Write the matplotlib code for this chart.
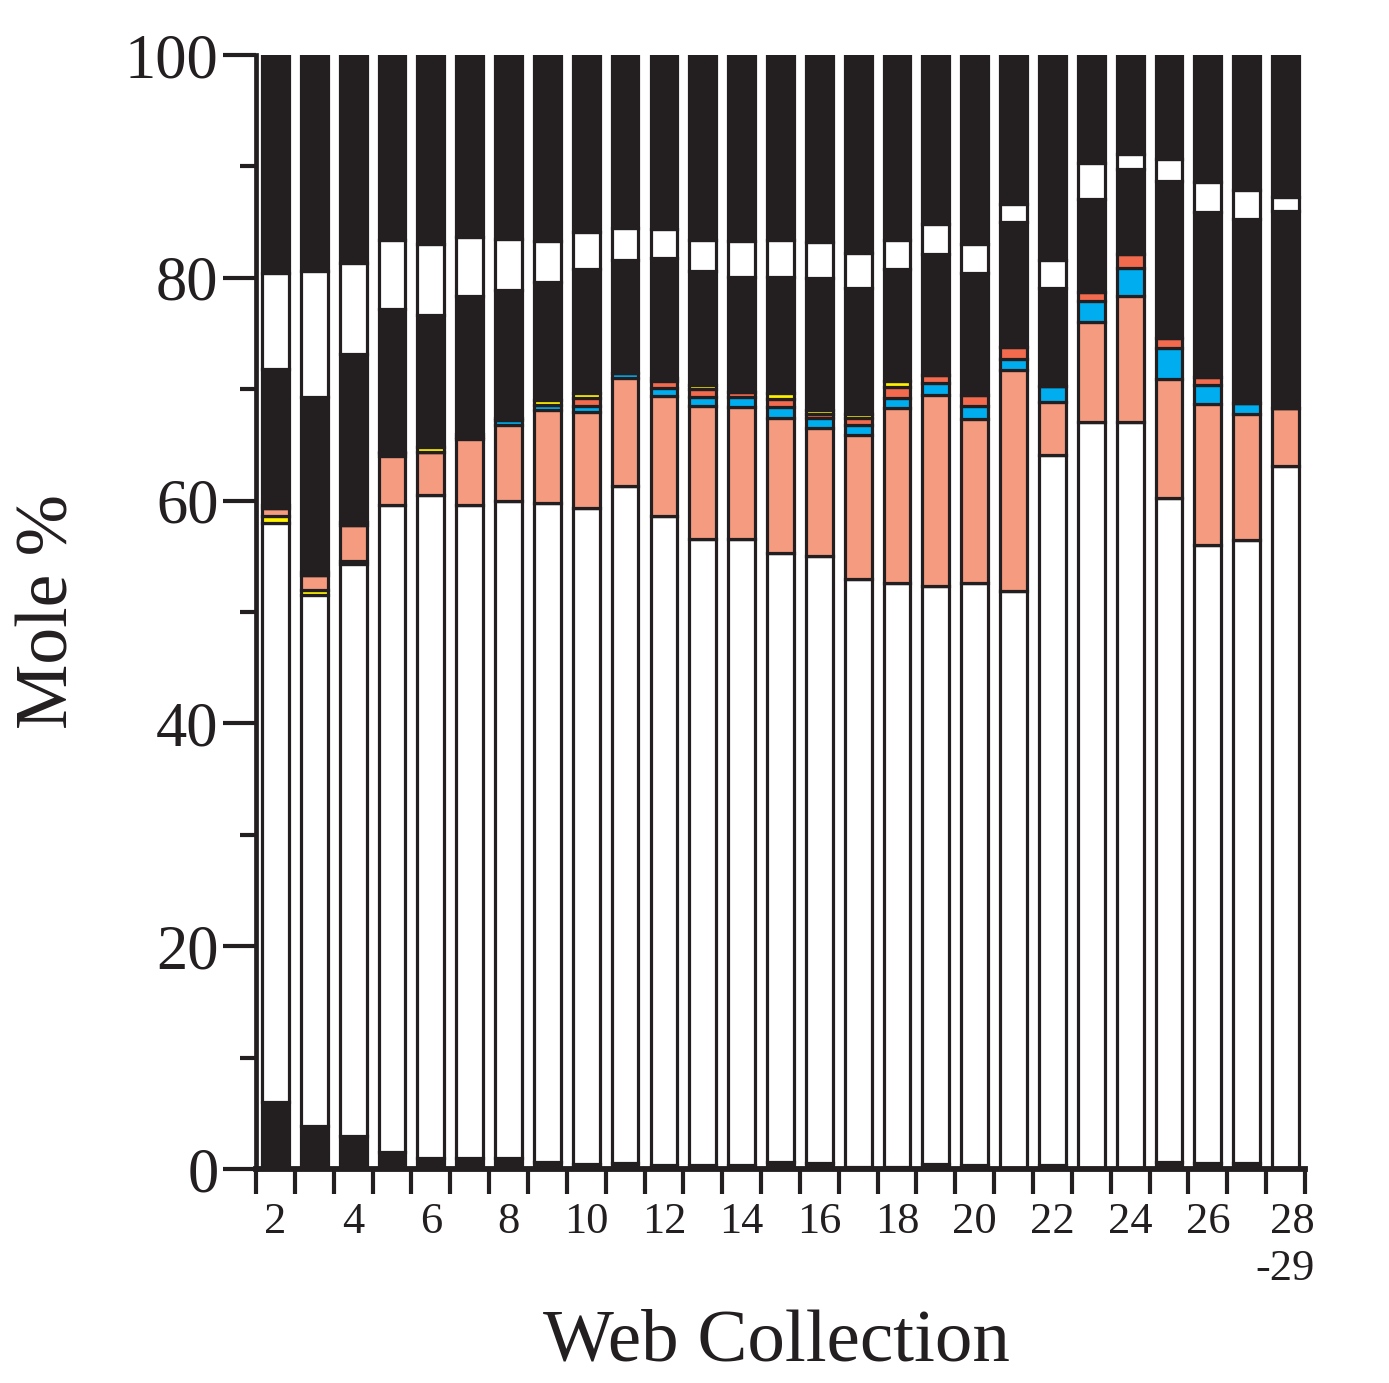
import numpy as np
import matplotlib
matplotlib.use("Agg")
from matplotlib import pyplot as plt
from matplotlib.ticker import FixedLocator

plt.rcParams["font.family"] = ["Liberation Serif", "DejaVu Serif"]

# web collections (last bar pools 28 and 29)
collections = ["2", "3", "4", "5", "6", "7", "8", "9", "10", "11", "12", "13", "14",
               "15", "16", "17", "18", "19", "20", "21", "22", "23", "24", "25",
               "26", "27", "28\n-29"]

# mole % of each band, bottom to top
black_base = [6.0, 3.9, 3.0, 1.5, 1.0, 1.0, 1.0, 0.65, 0.45, 0.5, 0.35, 0.35, 0.4,
              0.65, 0.55, 0.2, 0.2, 0.45, 0.4, 0.1, 0.35, 0.1, 0.1, 0.65, 0.55, 0.55, 0.1]
white_main = [52.0, 47.6, 51.3, 58.1, 59.5, 58.6, 59.0, 59.15, 58.85, 60.8, 58.25, 56.25, 56.2,
              54.65, 54.45, 52.8, 52.4, 51.85, 52.2, 51.8, 63.75, 67.0, 67.0, 59.55, 55.45, 55.95, 63.0]
yellow_low = [0.6, 0.5, 0.3, 0, 0, 0, 0, 0, 0, 0, 0, 0, 0,
              0, 0, 0, 0, 0, 0, 0, 0, 0, 0, 0, 0, 0, 0]
salmon = [0.7, 1.3, 3.2, 4.4, 3.9, 5.9, 6.8, 8.3, 8.7, 9.7, 10.8, 11.9, 11.8,
          12.1, 11.5, 12.9, 15.7, 17.2, 14.7, 19.8, 4.75, 8.9, 11.3, 10.7, 12.7, 11.3, 5.2]
blue = [0, 0, 0, 0.25, 0, 0.25, 0.4, 0.5, 0.5, 0.5, 0.7, 0.8, 0.9,
        1.0, 0.9, 0.9, 0.9, 1.1, 1.2, 1.05, 1.45, 1.9, 2.5, 2.8, 1.7, 1.0, 0]
red = [0, 0, 0, 0, 0, 0, 0, 0, 0.7, 0, 0.6, 0.7, 0.45,
       0.7, 0.4, 0.6, 1.0, 0.7, 1.0, 1.05, 0, 0.8, 1.2, 0.9, 0.7, 0, 0]
yellow_high = [0.3, 0.3, 0.3, 0.15, 0.4, 0.25, 0.25, 0.4, 0.5, 0, 0.3, 0.35, 0,
               0.6, 0.3, 0.4, 0.5, 0, 0, 0, 0, 0, 0, 0, 0, 0, 0]
black_mid = [12.2, 15.7, 15.1, 12.8, 11.9, 12.4, 11.45, 10.6, 11.1, 10.1, 10.8, 10.25, 10.35,
             10.4, 11.9, 11.3, 10.1, 10.8, 10.9, 11.2, 8.8, 8.4, 7.7, 14.1, 14.8, 16.5, 17.7]
white_upper = [8.6, 11.3, 8.1, 6.2, 6.3, 5.3, 4.6, 3.7, 3.3, 2.9, 2.6, 2.8, 3.2,
               3.3, 3.2, 3.1, 2.6, 2.7, 2.6, 1.6, 2.5, 3.2, 1.3, 2.0, 2.7, 2.6, 1.3]
black_top = [19.6, 19.4, 18.7, 16.6, 17.0, 16.3, 16.5, 16.7, 15.9, 15.5, 15.6, 16.6, 16.7,
             16.6, 16.8, 17.8, 16.6, 15.2, 17.0, 13.4, 18.4, 9.7, 8.9, 9.3, 11.4, 12.1, 12.7]

ink = "#231f20"
bands = [
    (black_base, ink),
    (white_main, "white"),
    (yellow_low, "#fff200"),
    (salmon, "#f59b80"),
    (blue, "#00aeef"),
    (red, "#f26b4f"),
    (yellow_high, "#fff200"),
    (black_mid, ink),
    (white_upper, "white"),
    (black_top, ink),
]

fig = plt.figure(figsize=(13.89, 13.83), dpi=100)
ax = fig.add_axes([0.1843, 0.1547, 0.7552, 0.8055])

ind = np.arange(len(collections))
bottom = np.zeros(len(collections))
for vals, col in bands:
    vals = np.array(vals, dtype=float)
    ax.bar(ind, vals, 0.69, bottom=bottom, color=col, edgecolor=ink,
           linewidth=2.3, zorder=2)
    bottom += vals

ax.set_xlim(-0.5, len(collections) - 0.5)
ax.set_ylim(0, 100)

for side in ("top", "right"):
    ax.spines[side].set_visible(False)
ax.spines["left"].set_linewidth(3.4)
ax.spines["left"].set_color(ink)
ax.spines["bottom"].set_linewidth(4.2)
ax.spines["bottom"].set_color(ink)
ax.spines["bottom"].set_zorder(3)

# y axis: labelled ticks every 20, short ticks between
ax.set_yticks([0, 20, 40, 60, 80, 100])
ax.yaxis.set_minor_locator(FixedLocator([10, 30, 50, 70, 90]))
ax.tick_params(axis="y", which="major", length=24, width=3.0, color=ink,
               labelsize=45, pad=3, labelcolor=ink)
ax.tick_params(axis="y", which="minor", length=11.5, width=3.0, color=ink)

# x axis: ticks between bars, labels on every other bar
ax.set_xticks(np.arange(len(collections) + 1) - 0.5)
ax.set_xticklabels([])
ax.tick_params(axis="x", which="major", length=18, width=3.0, color=ink)
lab_pos = ind[::2]
ax.xaxis.set_minor_locator(FixedLocator(lab_pos))
ax.set_xticklabels([collections[i] for i in lab_pos], minor=True)
ax.tick_params(axis="x", which="minor", length=0, pad=24, labelsize=32,
               labelcolor=ink)
for t in ax.xaxis.get_minorticklabels():
    t.set_verticalalignment("top")
    t.set_multialignment("right")

fig.text(0.036, 0.5575, "Mole %", fontsize=53, color=ink, rotation=90,
         ha="center", va="center")
fig.text(0.5587, 0.005, "Web Collection", fontsize=54, color=ink,
         ha="center", va="bottom")

fig.savefig("out.png", dpi=100)
plt.close(fig)
